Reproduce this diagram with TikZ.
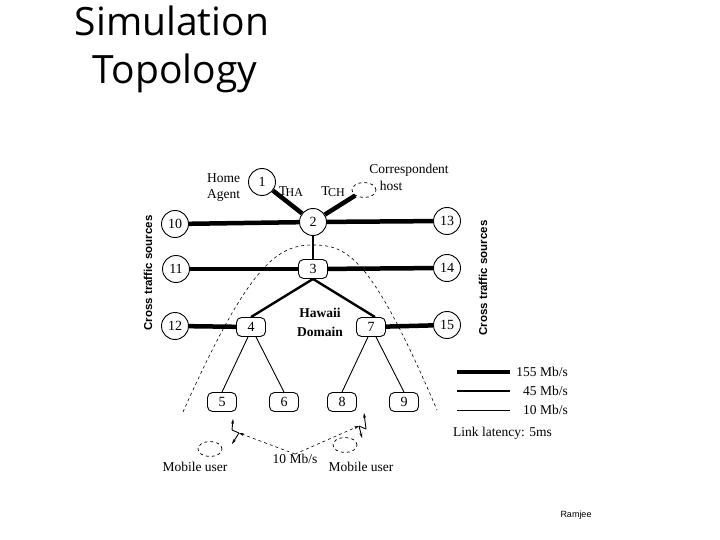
\documentclass[tikz,border=0pt]{standalone}
\usepackage{fontspec}
\setmainfont{Liberation Serif}
\newfontfamily\titlefont{Open Sans}
\newfontfamily\sansf{Liberation Sans}
\usetikzlibrary{shapes.geometric,arrows.meta,calc}
\begin{document}
\begin{tikzpicture}[x=1pt,y=-1pt,
  cnode/.style={circle,draw,line width=0.9pt,minimum size=27pt,inner sep=0pt,font=\fontsize{14}{14}\selectfont},
  rnode/.style={rectangle,rounded corners=5pt,draw,line width=0.9pt,minimum width=29pt,minimum height=19pt,inner sep=0pt,font=\fontsize{14}{14}\selectfont},
  dnode/.style={ellipse,draw,dashed,line width=0.7pt,minimum width=24pt,minimum height=15pt,inner sep=0pt},
  lbl/.style={font=\fontsize{13.5}{14}\selectfont,inner sep=0pt},
  side/.style={font=\sansf\bfseries\fontsize{11.5}{12}\selectfont,rotate=90,inner sep=0pt},
  lthick/.style={line width=4.5pt},
  lmed/.style={line width=2.4pt},
  lthin/.style={line width=0.9pt},
  bolt/.style={line width=0.9pt,-{Stealth[length=5pt,width=3pt]}}
]
\useasboundingbox (0,0) rectangle (720,540);
% title
\node[font=\titlefont\fontsize{39}{40}\selectfont,anchor=base,inner sep=0pt] (t1) at (172,36) {Simulation};
\node[font=\titlefont\fontsize{39}{40}\selectfont,anchor=base,inner sep=0pt] (t2) at (175,84) {Topology};
% nodes
\node[cnode] (n1) at (262,182) {1};
\node[cnode] (n2) at (313,222) {2};
\node[dnode] (ch) at (364,190) {};
\node[cnode] (n10) at (175,224) {10};
\node[cnode] (n13) at (447,221) {13};
\node[cnode] (n11) at (176,269) {11};
\node[rnode] (n3) at (313,269) {3};
\node[cnode] (n14) at (447,268) {14};
\node[cnode] (n12) at (175,326) {12};
\node[rnode] (n4) at (251,327) {4};
\node[rnode] (n7) at (371,327) {7};
\node[cnode] (n15) at (447,325) {15};
\node[rnode] (n5) at (222,402) {5};
\node[rnode] (n6) at (284,402) {6};
\node[rnode] (n8) at (342,402) {8};
\node[rnode] (n9) at (404,402) {9};
% links
\draw[lthick] (n1) -- (n2);
\draw[lthick] (ch) -- (n2);
\draw[lthick] (n10) -- (n2);
\draw[lthick] (n2) -- (n13);
\draw[lmed] (n2) -- (n3);
\draw[lthick] (n11) -- (n3);
\draw[lthick] (n3) -- (n14);
\draw[lmed] (n3.south) -- (n4.north);
\draw[lmed] (n3.south) -- ($(n7.north)+(4,0)$);
\draw[lthick] (n12) -- (n4);
\draw[lthick] (n7) -- (n15);
\draw[lthin] ($(n4.south)+(-3,0)$) -- (n5.north);
\draw[lthin] ($(n4.south)+(5,0)$) -- (n6.north);
\draw[lthin] ($(n7.south)+(-3,0)$) -- (n8.north);
\draw[lthin] ($(n7.south)+(5,0)$) -- (n9.north);
% domain boundary
\coordinate (dl) at (183,412);
\coordinate (dt) at (313,245);
\coordinate (dr) at (437,410);
\draw[dashed,line width=0.6pt] (dl) .. controls (250,262) and (278,245) .. (dt) .. controls (348,245) and (372,258) .. (dr);
% labels
\node[lbl,anchor=west] (home) at (207,178) {Home};
\node[lbl,anchor=west] (agent) at (207,196) {Agent};
\node[lbl] (tha) at (291,192) {T\kern-1.5pt\raisebox{-1pt}{\fontsize{12}{12}\selectfont HA}};
\node[lbl] (tch) at (333,192) {T\kern-1.5pt\raisebox{-1pt}{\fontsize{12}{12}\selectfont CH}};
\node[lbl] (corr) at (409,170) {Correspondent};
\node[lbl] (host) at (391,186) {host};
\node[font=\bfseries\fontsize{13.5}{14}\selectfont,inner sep=0pt] (haw) at (320,313) {Hawaii};
\node[font=\bfseries\fontsize{13.5}{14}\selectfont,inner sep=0pt] (dom) at (320,332) {Domain};
\node[side] (csl) at (148,273) {Cross traffic sources};
\node[side] (csr) at (483,278) {Cross traffic sources};
% legend
\coordinate (la1) at (457,372); \coordinate (la2) at (510,372);
\coordinate (lb1) at (457,391); \coordinate (lb2) at (510,391);
\coordinate (lc1) at (457,410); \coordinate (lc2) at (510,410);
\draw[lthick] (la1) -- (la2);
\draw[lmed] (lb1) -- (lb2);
\draw[line width=0.6pt] (lc1) -- (lc2);
\node[lbl,anchor=east] (l155) at (568,372) {155 Mb/s};
\node[lbl,anchor=east] (l45) at (568,391) {45 Mb/s};
\node[lbl,anchor=east] (l10) at (568,410) {10 Mb/s};
\node[lbl,anchor=west] (lat) at (453,433) {Link latency: 5ms};
% mobile users
\node[dnode] (m1) at (210,449) {};
\node[dnode] (m2) at (345,445) {};
\node[lbl] (mu1) at (195,467) {Mobile user};
\node[lbl] (mu2) at (361,467) {Mobile user};
\node[lbl] (w10) at (295,459) {10 Mb/s};
% wireless bolts
\coordinate (b1a) at (232,430); \coordinate (b1b) at (239,433);
\coordinate (b2a) at (359,426); \coordinate (b2b) at (366,429);
\draw[bolt] (b1a) -- (233,419);
\draw[bolt] (b1b) -- (232,444);
\draw[line width=0.9pt] (b1a) -- (b1b);
\draw[bolt] (b2b) -- (364,413);
\draw[bolt] (b2a) -- (362,438);
\draw[line width=0.9pt] (b2a) -- (b2b);
\draw[dashed,line width=0.6pt,-{Stealth[length=5pt,width=3pt]}] (w10.north) -- (b1b);
\draw[dashed,line width=0.6pt,-{Stealth[length=5pt,width=3pt]}] (w10.north) -- (b2a);
% author
\node[font=\sansf\fontsize{9}{9}\selectfont,inner sep=0pt] (auth) at (576,515) {Ramjee};
\end{tikzpicture}
\end{document}
